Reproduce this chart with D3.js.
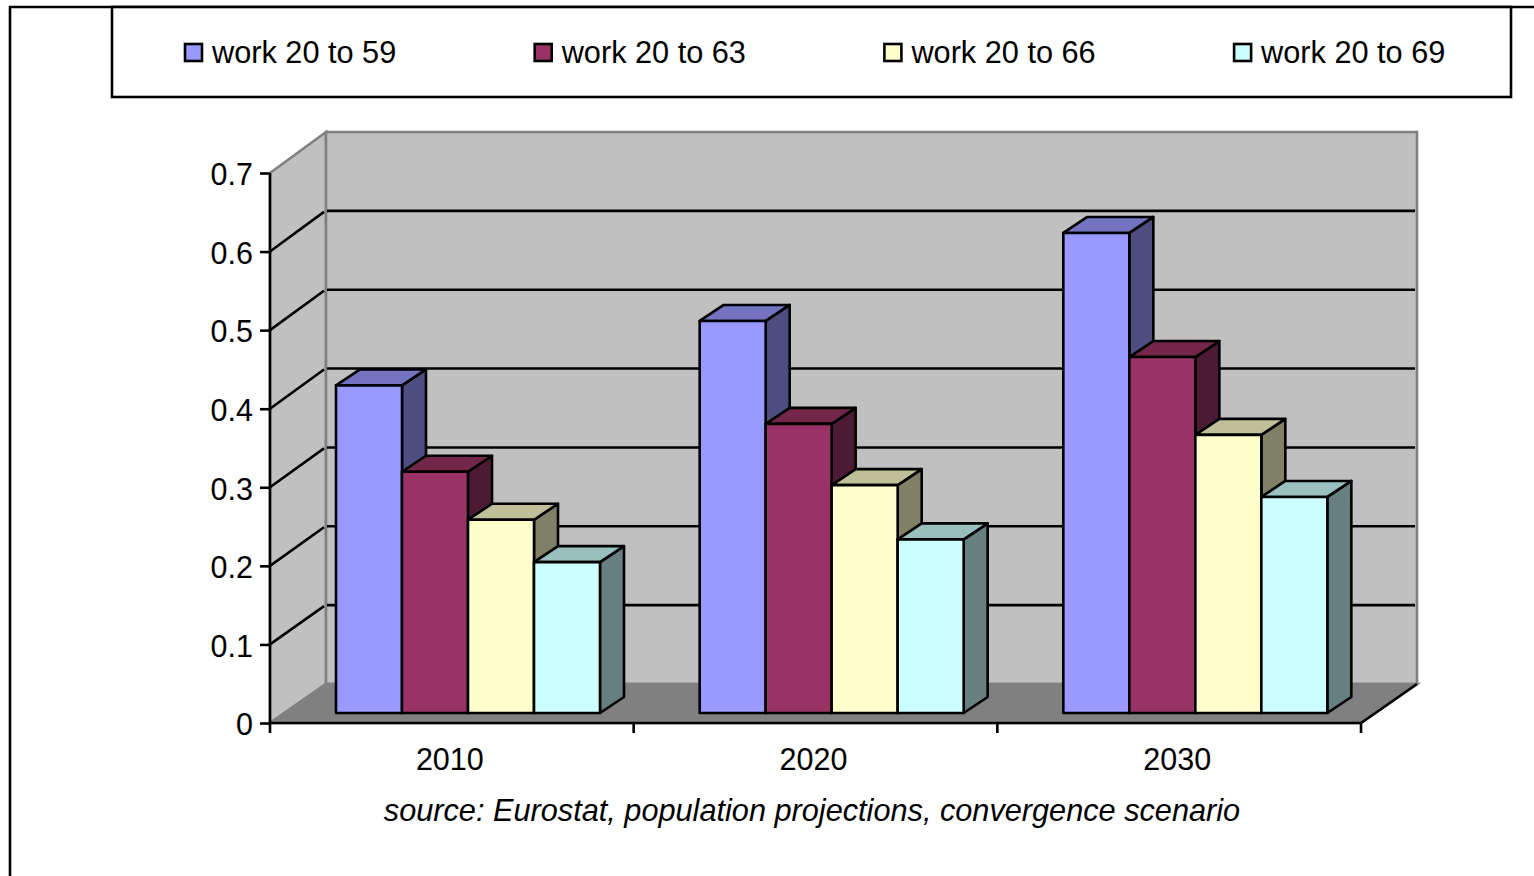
<!DOCTYPE html>
<html>
<head>
<meta charset="utf-8">
<script src="https://cdn.jsdelivr.net/npm/d3@7"></script>
<style>
  html, body { margin: 0; padding: 0; background: #fff; overflow: hidden; }
  text { font-family: "Liberation Sans", Arial, sans-serif; fill: #000; }
</style>
</head>
<body>
<div id="canvas"></div>
<script>
// chart values
var years = ["2010", "2020", "2030"];
var seriesNames = ["work 20 to 59", "work 20 to 63", "work 20 to 66", "work 20 to 69"];
var work59 = [0.417, 0.499, 0.611];
var work63 = [0.307, 0.368, 0.453];
var work66 = [0.246, 0.290, 0.354];
var work69 = [0.192, 0.221, 0.275];
var allSeries = [work59, work63, work66, work69];
var yTicks = [0, 0.1, 0.2, 0.3, 0.4, 0.5, 0.6, 0.7];

var frontColors = ["#9999ff", "#993366", "#ffffcc", "#ccffff"];
var topColors = ["#7373bf", "#732649", "#bfbf99", "#99bfbf"];
var sideColors = ["#4d4d80", "#4d1a33", "#808066", "#668080"];

var width = 1534, height = 876;
var lineW = 2.6;

// 3d box of the plot
var plot = { left: 270, right: 1361, top: 173, bottom: 723, dx: 56, dy: 39 };
var barDepth = { dx: 24, dy: 16 };

var svg = d3.select("#canvas").append("svg")
  .attr("width", width)
  .attr("height", height)
  .style("display", "block");

// outer frame, right and bottom edges are cut off by the picture
svg.append("path")
  .attr("d", "M10,876V7H1534")
  .attr("fill", "none")
  .attr("stroke", "#000")
  .attr("stroke-width", lineW);

var x = d3.scaleBand().domain(years).range([plot.left, plot.right]);
var yFront = d3.scaleLinear().domain([0, 0.7]).range([plot.bottom, plot.top]);
var yBack = d3.scaleLinear().domain([0, 0.7]).range([plot.bottom - plot.dy, 132]);
var yBar = d3.scaleLinear().domain([0, 0.7]).range([713, 713 - (plot.bottom - plot.top)]);
var xSeries = d3.scaleBand().domain(d3.range(seriesNames.length)).range([66, 66 + 264]);

function poly(points) {
  return "M" + points.map(function(p) { return p.join(","); }).join("L") + "Z";
}

// walls and floor
svg.append("path")
  .attr("d", poly([[plot.left, yFront(0.7)], [plot.left + plot.dx, yBack(0.7)], [plot.left + plot.dx, yBack(0)], [plot.left, yFront(0)]]))
  .attr("fill", "#c0c0c0").attr("stroke", "#808080").attr("stroke-width", lineW);
svg.append("path")
  .attr("d", poly([[plot.left + plot.dx, yBack(0.7)], [plot.right + plot.dx, yBack(0.7)], [plot.right + plot.dx, yBack(0)], [plot.left + plot.dx, yBack(0)]]))
  .attr("fill", "#c0c0c0").attr("stroke", "#808080").attr("stroke-width", lineW);
svg.append("path")
  .attr("d", poly([[plot.left, yFront(0)], [plot.left + plot.dx, yBack(0)], [plot.right + plot.dx, yBack(0)], [plot.right, yFront(0)]]))
  .attr("fill", "#808080").attr("stroke", "#808080").attr("stroke-width", lineW);

// gridlines on side wall and back wall
var gridValues = yTicks.filter(function(d) { return d > 0 && d < 0.7; });
svg.append("g").selectAll("path").data(gridValues).join("path")
  .attr("d", function(d) {
    return "M" + plot.left + "," + yFront(d) +
      "L" + (plot.left + plot.dx - 2) + "," + (yBack(d) + 1) +
      "M" + (plot.left + plot.dx + 1) + "," + yBack(d) +
      "H" + (plot.right + plot.dx - 2);
  })
  .attr("fill", "none")
  .attr("stroke", "#000")
  .attr("stroke-width", lineW);

// floor edge on the right
svg.append("line")
  .attr("x1", plot.right).attr("y1", yFront(0))
  .attr("x2", plot.right + plot.dx).attr("y2", yBack(0))
  .attr("stroke", "#000").attr("stroke-width", lineW);

// bars, left to right so that each one covers the side of the one before
years.forEach(function(year, i) {
  var g = svg.append("g").attr("transform", "translate(" + x(year) + ",0)");
  allSeries.forEach(function(values, s) {
    var x0 = xSeries(s), x1 = x0 + xSeries.bandwidth();
    var yTop = yBar(values[i]), yBase = yBar(0);
    var d = barDepth;
    var box = g.append("g").attr("stroke", "#000").attr("stroke-width", lineW).attr("stroke-linejoin", "round");
    box.append("path")
      .attr("d", poly([[x1, yTop], [x1 + d.dx, yTop - d.dy], [x1 + d.dx, yBase - d.dy], [x1, yBase]]))
      .attr("fill", sideColors[s]);
    box.append("path")
      .attr("d", poly([[x0, yTop], [x0 + d.dx, yTop - d.dy], [x1 + d.dx, yTop - d.dy], [x1, yTop]]))
      .attr("fill", topColors[s]);
    box.append("path")
      .attr("d", poly([[x0, yTop], [x1, yTop], [x1, yBase], [x0, yBase]]))
      .attr("fill", frontColors[s]);
  });
});

// y axis
var yAxis = svg.append("g")
  .attr("transform", "translate(" + plot.left + ",0)")
  .call(d3.axisLeft(yFront).tickValues(yTicks).tickSize(10).tickPadding(7)
    .tickFormat(function(d) { return d === 0 ? "0" : d3.format(".1f")(d); }));
yAxis.selectAll("path, line").attr("stroke", "#000").attr("stroke-width", lineW);
yAxis.select(".domain").attr("d", "M0," + plot.top + "V" + plot.bottom);
yAxis.selectAll("text").attr("y", 2).style("font-size", "30.5px").style("font-family", '"Liberation Sans", Arial, sans-serif');

// x axis, the ticks sit between the years
var xAxis = svg.append("g")
  .attr("transform", "translate(0," + plot.bottom + ")")
  .call(d3.axisBottom(x).tickSize(0).tickPadding(25));
xAxis.select(".domain").attr("stroke", "#000").attr("stroke-width", lineW)
  .attr("d", "M" + plot.left + ",0H" + plot.right);
xAxis.selectAll("text").attr("dx", -2).style("font-size", "30.5px").style("font-family", '"Liberation Sans", Arial, sans-serif');
xAxis.selectAll("line.edge").data(years.map(function(d) { return x(d); }).concat([plot.right])).join("line")
  .attr("class", "edge")
  .attr("x1", function(d) { return d; }).attr("x2", function(d) { return d; })
  .attr("y1", 0).attr("y2", 10)
  .attr("stroke", "#000").attr("stroke-width", lineW);

// source line
svg.append("text")
  .attr("x", 812).attr("y", 821)
  .attr("text-anchor", "middle")
  .style("font-size", "30.7px")
  .style("font-style", "italic")
  .text("source: Eurostat, population projections, convergence scenario");

// legend
svg.append("rect")
  .attr("x", 112).attr("y", 7).attr("width", 1399).attr("height", 90)
  .attr("fill", "#fff").attr("stroke", "#000").attr("stroke-width", lineW);
var legendX = d3.scaleBand().domain(seriesNames).range([185, 185 + 4 * 349.7]);
var legendItem = svg.append("g").selectAll("g").data(seriesNames).join("g")
  .attr("transform", function(d) { return "translate(" + legendX(d) + ",0)"; });
legendItem.append("rect")
  .attr("x", 0).attr("y", 44).attr("width", 17).attr("height", 17)
  .attr("fill", function(d, i) { return frontColors[i]; })
  .attr("stroke", "#000").attr("stroke-width", lineW);
legendItem.append("text")
  .attr("x", 27).attr("y", 63)
  .style("font-size", "30.7px")
  .text(function(d) { return d; });
</script>
</body>
</html>
